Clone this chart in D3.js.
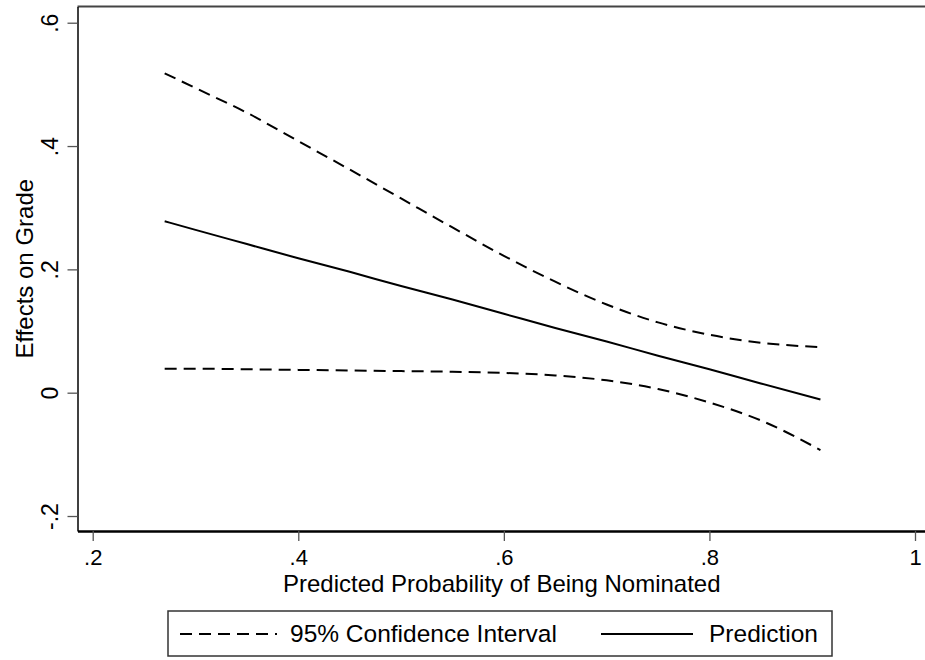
<!DOCTYPE html>
<html>
<head>
<meta charset="utf-8">
<script src="https://cdn.jsdelivr.net/npm/d3@7"></script>
<style>
  body { margin: 0; background: #fff; }
  svg { display: block; font-family: "Liberation Sans", Arial, sans-serif; }
</style>
</head>
<body>
<svg class="chart"></svg>
<script>
// predicted probability (x) and the three estimated curves
var prob      = [0.27, 0.30, 0.35, 0.40, 0.45, 0.50, 0.55, 0.60, 0.65, 0.70, 0.75, 0.80, 0.85, 0.908];
var predicted = [0.278, 0.264, 0.241, 0.218, 0.196, 0.173, 0.151, 0.128, 0.105, 0.083, 0.060, 0.038, 0.015, -0.011];
var upperCI   = [0.518, 0.494, 0.454, 0.408, 0.362, 0.315, 0.268, 0.222, 0.180, 0.143, 0.114, 0.094, 0.081, 0.074];
var lowerCI   = [0.039, 0.039, 0.038, 0.037, 0.036, 0.035, 0.034, 0.032, 0.028, 0.020, 0.006, -0.016, -0.045, -0.093];

var xTicks = [0.2, 0.4, 0.6, 0.8, 1];
var xTickLabels = [".2", ".4", ".6", ".8", "1"];
var yTicks = [-0.2, 0, 0.2, 0.4, 0.6];
var yTickLabels = ["-.2", "0", ".2", ".4", ".6"];

var W = 925, H = 660;
var plotL = 77.5, plotR = 926, plotT = 6.5, plotB = 531;

var svg = d3.select(".chart").attr("width", W).attr("height", H);

var x = d3.scaleLinear().domain([0.1852, 1.0107]).range([plotL, plotR]);
var y = d3.scaleLinear().domain([-0.2243, 0.6263]).range([plotB, plotT]);

// top frame line
svg.append("line")
    .attr("x1", plotL).attr("x2", W).attr("y1", plotT).attr("y2", plotT)
    .attr("stroke", "#444").attr("stroke-width", 2);

// y axis
var yAxis = d3.axisLeft(y).tickValues(yTicks).tickSize(10).tickSizeOuter(0).tickPadding(0)
    .tickFormat(function(d, i) { return yTickLabels[i]; });
var gy = svg.append("g").attr("transform", "translate(" + plotL + ",0)").call(yAxis);
gy.select(".domain").attr("stroke", "#000").attr("stroke-width", 1.5);
gy.selectAll(".tick line").attr("stroke", "#555").attr("stroke-width", 1.3);
gy.selectAll(".tick text")
    .attr("x", 0).attr("y", 0).attr("dy", 0)
    .attr("transform", "translate(-20,0) rotate(-90)")
    .attr("text-anchor", "middle")
    .style("font-size", "23px").attr("fill", "#000");

// x axis
var xAxis = d3.axisBottom(x).tickValues(xTicks).tickSize(10).tickSizeOuter(0).tickPadding(0)
    .tickFormat(function(d, i) { return xTickLabels[i]; });
var gx = svg.append("g").attr("transform", "translate(0," + plotB + ")").call(xAxis);
gx.select(".domain").attr("stroke", "#000").attr("stroke-width", 2.5);
gx.selectAll(".tick line").attr("stroke", "#555").attr("stroke-width", 1.3);
gx.selectAll(".tick text")
    .attr("y", 34).attr("dy", 0)
    .style("font-size", "22px").attr("fill", "#000");

// axis titles
svg.append("text")
    .attr("x", (plotL + plotR) / 2).attr("y", 592)
    .attr("text-anchor", "middle")
    .style("font-size", "24px")
    .text("Predicted Probability of Being Nominated");

svg.append("text")
    .attr("transform", "translate(33," + (plotT + plotB) / 2 + ") rotate(-90)")
    .attr("text-anchor", "middle")
    .style("font-size", "24px")
    .text("Effects on Grade");

// curves
var line = d3.line()
    .curve(d3.curveMonotoneX)
    .x(function(d) { return x(d[0]); })
    .y(function(d) { return y(d[1]); });

var series = [
  {values: upperCI, dash: "12,7"},
  {values: lowerCI, dash: "12,7"},
  {values: predicted, dash: null}
];

svg.append("g").selectAll("path")
    .data(series)
  .enter().append("path")
    .attr("d", function(s) { return line(prob.map(function(p, i) { return [p, s.values[i]]; })); })
    .attr("fill", "none")
    .attr("stroke", "#000")
    .attr("stroke-width", 2)
    .attr("stroke-dasharray", function(s) { return s.dash; });

// legend
var legend = svg.append("g");
legend.append("rect")
    .attr("x", 168).attr("y", 611).attr("width", 664).attr("height", 45)
    .attr("fill", "#fff").attr("stroke", "#333").attr("stroke-width", 1.5);

legend.append("line")
    .attr("x1", 180).attr("x2", 277).attr("y1", 634).attr("y2", 634)
    .attr("stroke", "#000").attr("stroke-width", 2).attr("stroke-dasharray", "12,7");
legend.append("text")
    .attr("x", 290).attr("y", 642)
    .style("font-size", "24.5px")
    .text("95% Confidence Interval");

legend.append("line")
    .attr("x1", 601).attr("x2", 693).attr("y1", 634).attr("y2", 634)
    .attr("stroke", "#000").attr("stroke-width", 2);
legend.append("text")
    .attr("x", 709).attr("y", 642)
    .style("font-size", "24.5px")
    .text("Prediction");
</script>
</body>
</html>
